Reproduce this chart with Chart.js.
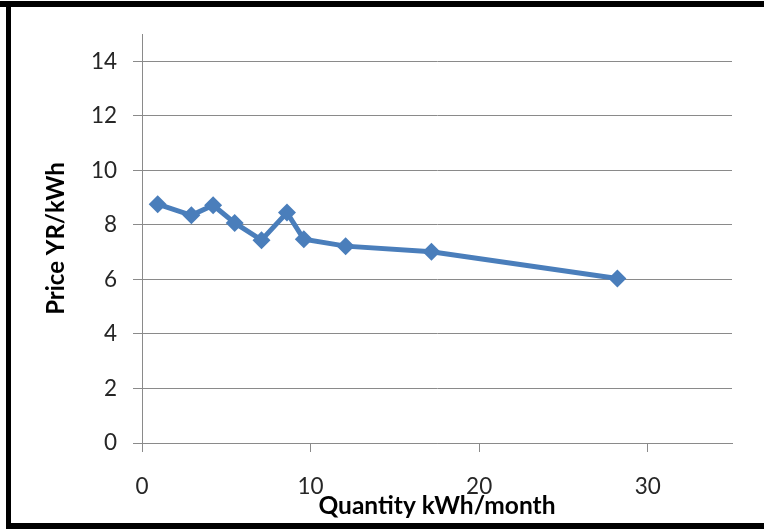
<!DOCTYPE html>
<html>
<head>
<meta charset="utf-8">
<script src="https://cdn.jsdelivr.net/npm/chart.js@4/dist/chart.umd.min.js"></script>
<style>
  html, body { margin: 0; padding: 0; background: #ffffff; }
  #wrap { width: 764px; height: 529px; }
</style>
</head>
<body>
<div id="wrap"><canvas id="chart" width="764" height="529"></canvas></div>
<script>
// Monthly consumption and the matching unit price
const quantity = [0.93, 2.93, 4.22, 5.50, 7.09, 8.60, 9.60, 12.08, 17.17, 28.20];
const price    = [8.76, 8.35, 8.72, 8.07, 7.44, 8.45, 7.47, 7.22, 7.01, 6.03];

const xTicks = [0, 10, 20, 30];
const yTicks = [0, 2, 4, 6, 8, 10, 12, 14];

const xTitle = 'Quantity kWh/month';
const yTitle = 'Price YR/kWh';

const points = quantity.map((q, i) => ({ x: q, y: price[i] }));

const GRID = '#8a8a8a';
const BLUE = '#4a7ebb';

// thick black frame on the left, top and bottom edges
const framePlugin = {
  id: 'frame',
  afterDraw(chart) {
    const ctx = chart.ctx;
    ctx.save();
    ctx.fillStyle = '#000000';
    ctx.fillRect(0, 1, 764, 6);
    ctx.fillRect(6, 1, 5, 528);
    ctx.fillRect(6, 523, 758, 6);
    ctx.restore();
  }
};

new Chart(document.getElementById('chart'), {
  type: 'scatter',
  data: {
    datasets: [{
      data: points,
      showLine: true,
      tension: 0,
      borderColor: BLUE,
      borderWidth: 5,
      pointStyle: 'rectRot',
      pointRadius: 9,
      pointHoverRadius: 9,
      pointBackgroundColor: BLUE,
      pointBorderColor: BLUE,
      pointBorderWidth: 0
    }]
  },
  options: {
    responsive: false,
    animation: false,
    events: [],
    layout: { padding: { left: 0, top: 34, right: 32, bottom: 0 } },
    plugins: {
      legend: { display: false },
      tooltip: { enabled: false }
    },
    scales: {
      x: {
        type: 'linear',
        position: 'bottom',
        min: 0,
        max: 35,
        afterBuildTicks(scale) {
          scale.ticks = xTicks.map(v => ({ value: v }));
        },
        afterFit(scale) { scale.height = 86; },
        grid: {
          drawOnChartArea: false,
          drawTicks: true,
          tickLength: 9,
          color: GRID,
          lineWidth: 1
        },
        border: { display: true, color: GRID, width: 1 },
        ticks: {
          padding: 21,
          color: '#262626',
          font: { family: 'Lato', size: 22.5, lineHeight: 1.2 }
        },
        title: {
          display: true,
          text: xTitle,
          color: '#000000',
          font: { family: 'Lato', size: 24.5, weight: 'bold', lineHeight: 1.2 },
          padding: { top: 0, bottom: 8 }
        }
      },
      y: {
        type: 'linear',
        position: 'left',
        min: 0,
        max: 15,
        afterBuildTicks(scale) {
          scale.ticks = yTicks.map(v => ({ value: v }));
        },
        afterFit(scale) { scale.width = 142; },
        grid: {
          drawOnChartArea: true,
          drawTicks: true,
          tickLength: 9,
          color: GRID,
          lineWidth: 1
        },
        border: { display: true, color: GRID, width: 1 },
        ticks: {
          padding: 16,
          color: '#262626',
          font: { family: 'Lato', size: 22.5, lineHeight: 1.2 }
        },
        title: {
          display: true,
          text: yTitle,
          color: '#000000',
          font: { family: 'Lato', size: 24, weight: 'bold', lineHeight: 1.2 },
          padding: { top: 42, bottom: 0 }
        }
      }
    }
  },
  plugins: [framePlugin]
});
</script>
</body>
</html>
